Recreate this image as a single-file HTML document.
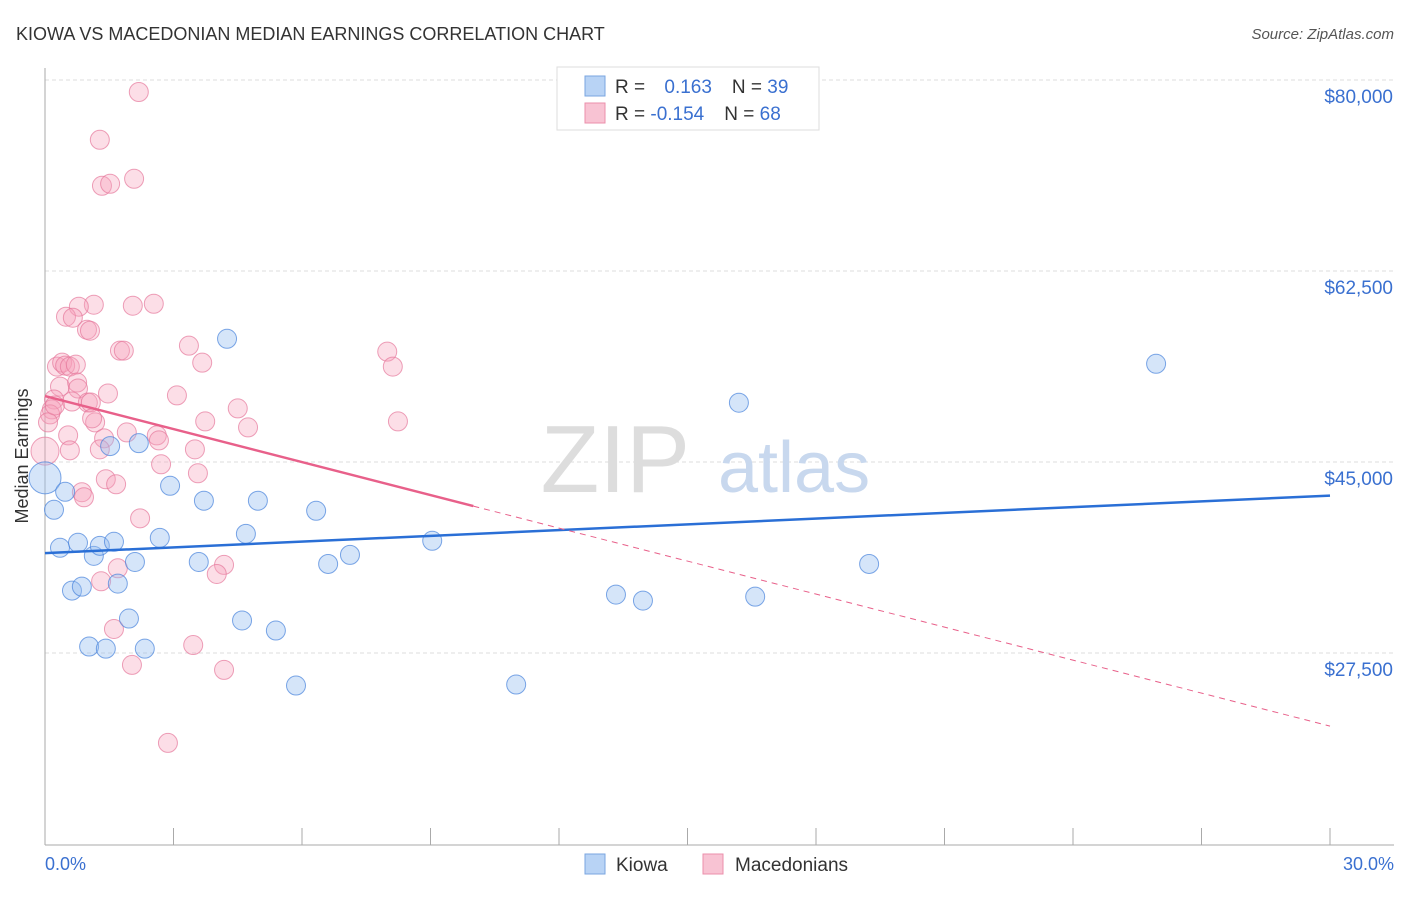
<!DOCTYPE html>
<html><head><meta charset="utf-8"><style>
body{margin:0;background:#fff;font-family:"Liberation Sans",sans-serif}
svg text{font-family:"Liberation Sans",sans-serif}
</style></head><body>
<svg width="1406" height="892" viewBox="0 0 1406 892">
<text x="16" y="40" font-size="18" fill="#333">KIOWA VS MACEDONIAN MEDIAN EARNINGS CORRELATION CHART</text>
<text x="1394" y="39" font-size="15" fill="#555" text-anchor="end" font-style="italic">Source: ZipAtlas.com</text>
<g id="grid"></g>
<text x="690" y="492" font-size="96" fill="#ddd" font-family="Liberation Serif" text-anchor="end">ZIP</text>
<text x="718" y="492" font-size="72" fill="#c8d8ee">atlas</text>
<line x1="45" y1="68" x2="45" y2="845" stroke="#aaa"/>
<line x1="45" y1="845" x2="1394" y2="845" stroke="#aaa"/>
<g id="ticks"></g>
<text x="28" y="456" font-size="18" fill="#333" text-anchor="middle" transform="rotate(-90 28 456)">Median Earnings</text>
<text x="45" y="870" font-size="18" fill="#3a70d0">0.0%</text>
<text x="1394" y="870" font-size="18" fill="#3a70d0" text-anchor="end">30.0%</text>
<g id="pts"></g>
<g id="trends"></g>
<g>
<rect x="557" y="67" width="262" height="63" fill="#fff" stroke="#ddd"/>
<rect x="585" y="76" width="20" height="20" fill="#b8d3f5" stroke="#7aa6e0"/>
<rect x="585" y="103" width="20" height="20" fill="#f8c3d3" stroke="#eb8fab"/>
<text x="615" y="93" font-size="19" fill="#333">R = <tspan fill="#3a70d0" dx="14">0.163</tspan><tspan dx="20" fill="#333">N =</tspan><tspan fill="#3a70d0"> 39</tspan></text>
<text x="615" y="120" font-size="19" fill="#333">R = <tspan fill="#3a70d0">-0.154</tspan><tspan dx="20" fill="#333">N =</tspan><tspan fill="#3a70d0"> 68</tspan></text>
</g>
<g>
<rect x="585" y="854" width="20" height="20" fill="#b8d3f5" stroke="#7aa6e0"/>
<text x="616" y="871" font-size="19" fill="#333">Kiowa</text>
<rect x="703" y="854" width="20" height="20" fill="#f8c3d3" stroke="#eb8fab"/>
<text x="735" y="871" font-size="19" fill="#333">Macedonians</text>
</g>
</svg>
<script>
const yTicks=[80000,62500,45000,27500];
const yTickLabels=["$80,000","$62,500","$45,000","$27,500"];
const kiowaX=[0.0,0.21,0.35,0.47,0.63,0.77,0.86,1.03,1.14,1.28,1.42,1.52,1.61,1.7,1.96,2.1,2.19,2.33,2.68,2.92,3.59,3.71,4.25,4.6,4.69,4.97,5.39,5.86,6.33,6.61,7.12,9.04,11.0,13.33,13.96,16.2,16.58,19.24,25.94];
const kiowaY=[43550,40620,37140,42270,33220,37600,33580,28090,36400,37320,27900,46460,37690,33860,30660,35840,46730,27900,38050,42820,35840,41450,56290,30480,38420,41450,29560,24520,40530,35660,36490,37780,24610,32850,32300,50430,32660,35660,54000];
const macX=[0.0,2.19,1.28,1.33,1.52,2.08,2.54,2.05,1.14,0.79,0.49,0.65,0.98,1.05,1.75,1.84,3.36,3.67,7.99,8.12,0.28,0.4,0.47,0.58,0.72,0.35,0.75,0.77,1.47,0.21,0.16,0.12,0.63,1.0,1.07,3.08,4.5,1.17,3.74,4.74,8.24,0.54,1.91,2.61,1.38,2.66,0.58,1.28,3.5,2.71,3.57,1.42,1.66,0.86,0.91,2.22,1.7,1.31,4.18,4.01,1.61,3.46,2.03,4.18,2.87,0.07,0.23,1.1];
const macY=[46000,78900,74520,70310,70490,70950,59500,59320,59410,59230,58310,58220,57120,57030,55200,55200,55660,54100,55110,53740,53740,54100,53830,53740,53920,51910,52280,51730,51280,50730,49820,49360,50540,50450,50450,51100,49910,48630,48720,48170,48720,47440,47710,47440,47170,46980,46070,46160,46160,44790,43970,43420,42960,42230,41770,39840,35260,34070,35570,34740,29700,28230,26410,25950,19260,48630,50180,49000];
const X=v=>45+v*1285/30, Y=v=>80+(80000-v)*191/17500;
const NS='http://www.w3.org/2000/svg';
function mk(t,a,p){const e=document.createElementNS(NS,t);for(const k in a)e.setAttribute(k,a[k]);p.appendChild(e);return e;}
const grid=document.getElementById('grid');
yTicks.forEach((t,i)=>{
 const l=mk('line',{x1:45,x2:1394,y1:Y(t),y2:Y(t),stroke:'#ddd','stroke-dasharray':'4 3'},grid);
 
 
 const tx=mk('text',{x:1393,y:Y(t)+23,'font-size':19,fill:'#3a70d0','text-anchor':'end'},grid);
 tx.textContent=yTickLabels[i];
 
 
});
const ticks=document.getElementById('ticks');
for(let i=0;i<=10;i++){const l=mk('line',{x1:X(i*3),x2:X(i*3),y1:828,y2:845,stroke:'#aaa'},ticks);
 
 }
const pts=document.getElementById('pts');
macX.forEach((x,i)=>{const c=mk('circle',{cx:X(x),cy:Y(macY[i]),r:i==0?14:9.5,fill:'rgba(245,160,185,0.35)',stroke:'rgba(230,120,155,0.7)','stroke-width':1},pts);
 
 });
kiowaX.forEach((x,i)=>{const c=mk('circle',{cx:X(x),cy:Y(kiowaY[i]),r:i==0?16:9.5,fill:'rgba(150,190,240,0.4)',stroke:'rgba(70,130,220,0.7)','stroke-width':1},pts);
 
 });
const tr=document.getElementById('trends');
const kiowaTrend=[36650,41920], macTrend=[51040,20800], macSolidEnd=10;
let l=mk('line',{x1:X(0),y1:Y(kiowaTrend[0]),x2:X(30),y2:Y(kiowaTrend[1]),stroke:'#2a6fd6','stroke-width':2.5},tr);


const my=x=>macTrend[0]+(macTrend[1]-macTrend[0])*x/30;
l=mk('line',{x1:X(0),y1:Y(my(0)),x2:X(macSolidEnd),y2:Y(my(macSolidEnd)),stroke:'#e8608a','stroke-width':2.5},tr);


l=mk('line',{x1:X(macSolidEnd),y1:Y(my(macSolidEnd)),x2:X(30),y2:Y(my(30)),stroke:'#e8608a','stroke-width':1,'stroke-dasharray':'6 5'},tr);


</script>
</body></html>
